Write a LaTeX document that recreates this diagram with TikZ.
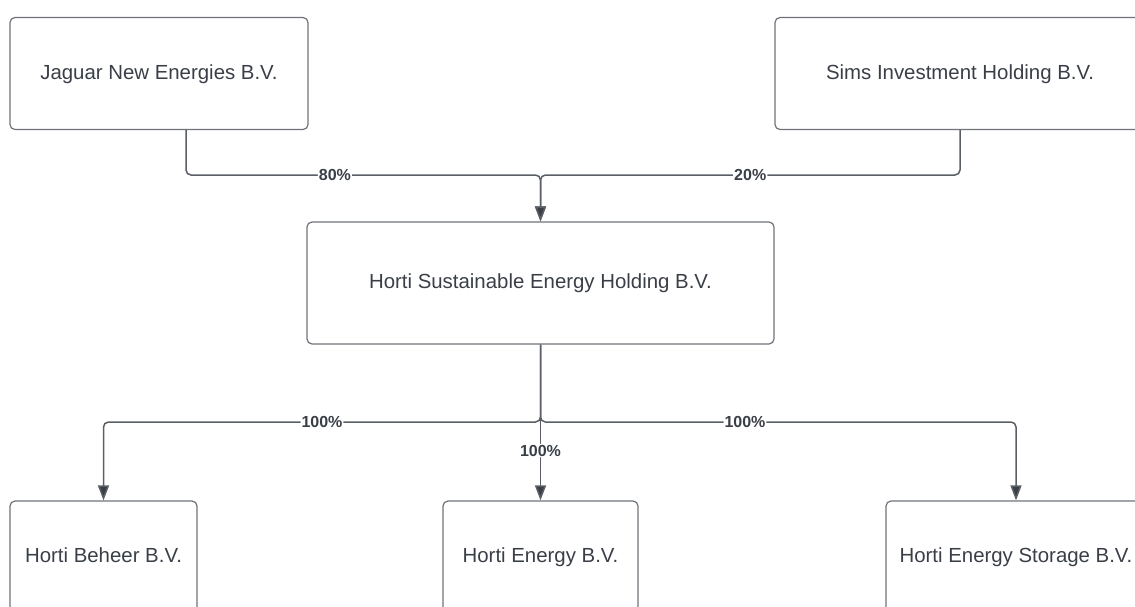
\documentclass[tikz,border=0pt]{standalone}
\usepackage{fontspec}
\setmainfont{Liberation Sans}
\usetikzlibrary{positioning,arrows.meta}
\definecolor{boxline}{HTML}{6E737A}
\definecolor{inktext}{HTML}{3A3F47}
\definecolor{linkline}{HTML}{5A5F66}

\begin{document}
\begin{tikzpicture}[x=1pt,y=1pt,
    entity/.style={draw=boxline,line width=1.2pt,rounded corners=5pt,text=inktext,
      font=\fontsize{20.4}{24}\selectfont,inner sep=0pt,text height=15pt,text depth=4pt},
    link/.style={draw=linkline,line width=1.5pt,rounded corners=5pt,
      -{Triangle[width=11pt,length=15pt,fill=inktext]}},
    pct/.style={fill=white,inner sep=1pt,text=inktext,font=\fontsize{16}{18}\selectfont\bfseries}]
	\useasboundingbox (0,0) rectangle (1135,-606);
	\node[entity,minimum width=298pt,minimum height=112pt] (jaguar) at (159,-73.5) {Jaguar New Energies B.V.};
	\node[entity,minimum width=370pt,minimum height=112pt] (sims) at (960,-73.5) {Sims Investment Holding B.V.};
	\node[entity,minimum width=467pt,minimum height=122pt] (holding) at (540.5,-283) {Horti Sustainable Energy Holding B.V.};
	\node[entity,minimum width=187pt,minimum height=112pt] (beheer) at (103.5,-557) {Horti Beheer B.V.};
	\node[entity,minimum width=195pt,minimum height=112pt] (energy) at (540.5,-557) {Horti Energy B.V.};
	\node[entity,minimum width=260pt,minimum height=112pt] (storage) at (1016,-557) {Horti Energy Storage B.V.};
	\coordinate (merge) at (540.5,-175);
	\coordinate (split) at (540.5,-422);
	\draw[link] ([xshift=27pt]jaguar.south) |- node[pct,pos=0.71] {80\%} (merge) -- (holding.north);
	\draw[link] (sims.south) |- node[pct,pos=0.75] {20\%} (merge) -- (holding.north);
	\draw[link] (holding.south) -- (split) -| node[pct,pos=0.25] {100\%} (beheer);
	\draw[link] (holding.south) -- (split) -| node[pct,pos=0.215] {100\%} (storage);
	\draw[link] (holding.south) -- node[pct,pos=0.68] {100\%} (energy.north);
\end{tikzpicture}
\end{document}
